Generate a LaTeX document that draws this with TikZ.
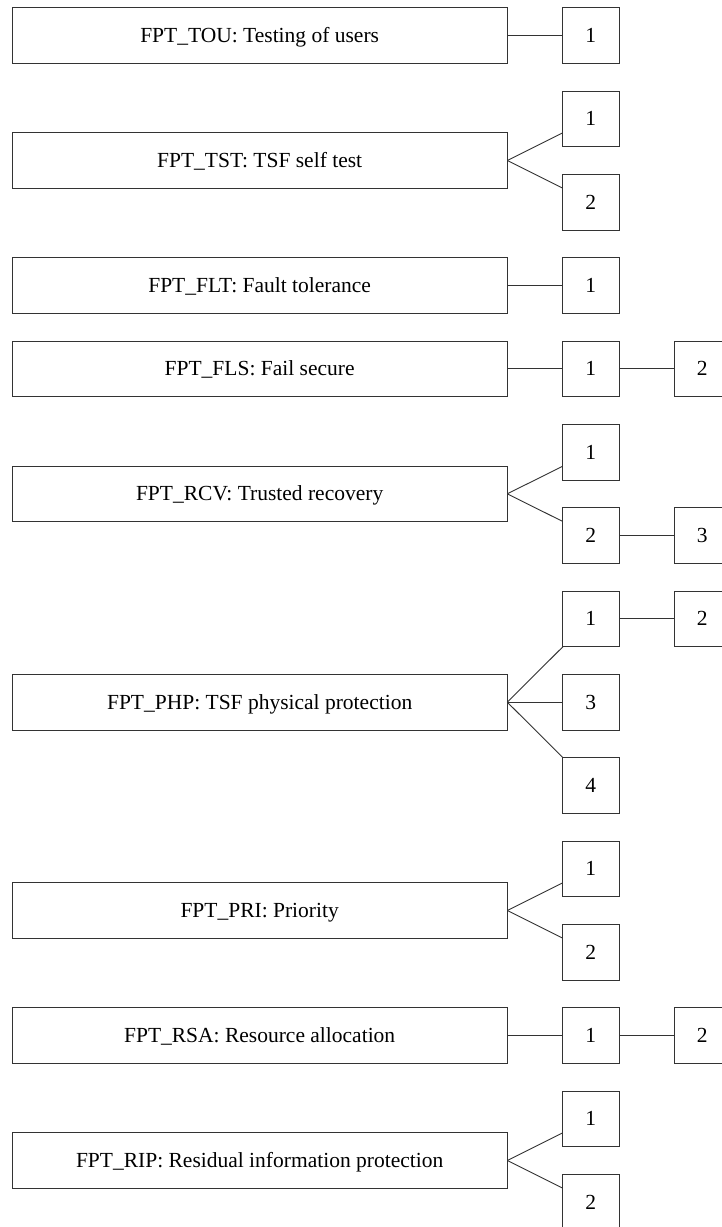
\documentclass[tikz,border=0pt]{standalone}
\usepackage{fontspec}
\setmainfont{Liberation Serif}
\begin{document}
\begin{tikzpicture}[x=1pt,y=-1pt,
  fam/.style={draw=black!80, line width=0.9pt, minimum width=495.3pt, minimum height=55.7pt, inner sep=0pt, outer sep=0pt, text height=14pt, text depth=0pt, font=\fontsize{21.5}{25}\selectfont},
  comp/.style={draw=black!80, line width=0.9pt, minimum width=56.3pt, minimum height=55.7pt, inner sep=0pt, outer sep=0pt, text height=14pt, text depth=0pt, font=\fontsize{21.5}{25}\selectfont},
  link/.style={draw=black!80, line width=0.9pt}]
\useasboundingbox[fill=white] (0,0) rectangle (722,1227);
\clip (0,0) rectangle (722,1227);
% parents
\node[fam] (tou) at (259.65,35.5) {FPT\_TOU: Testing of users};
\node[fam] (tst) at (259.65,160.5) {FPT\_TST: TSF self test};
\node[fam] (flt) at (259.65,285.5) {FPT\_FLT: Fault tolerance};
\node[fam] (fls) at (259.65,368.8) {FPT\_FLS: Fail secure};
\node[fam] (rcv) at (259.65,493.8) {FPT\_RCV: Trusted recovery};
\node[fam] (php) at (259.65,702.2) {FPT\_PHP: TSF physical protection};
\node[fam] (pri) at (259.65,910.5) {FPT\_PRI: Priority};
\node[fam] (rsa) at (259.65,1035.5) {FPT\_RSA: Resource allocation};
\node[fam] (rip) at (259.65,1160.5) {FPT\_RIP: Residual information protection};
% components
\node[comp] (tou1) at (590.85,35.5) {1};
\node[comp] (tst1) at (590.85,118.8) {1};
\node[comp] (tst2) at (590.85,202.2) {2};
\node[comp] (flt1) at (590.85,285.5) {1};
\node[comp] (fls1) at (590.85,368.8) {1};
\node[comp] (fls2) at (702.15,368.8) {2};
\node[comp] (rcv1) at (590.85,452.2) {1};
\node[comp] (rcv2) at (590.85,535.5) {2};
\node[comp] (rcv3) at (702.15,535.5) {3};
\node[comp] (php1) at (590.85,618.8) {1};
\node[comp] (php2) at (702.15,618.8) {2};
\node[comp] (php3) at (590.85,702.2) {3};
\node[comp] (php4) at (590.85,785.5) {4};
\node[comp] (pri1) at (590.85,868.8) {1};
\node[comp] (pri2) at (590.85,952.2) {2};
\node[comp] (rsa1) at (590.85,1035.5) {1};
\node[comp] (rsa2) at (702.15,1035.5) {2};
\node[comp] (rip1) at (590.85,1118.8) {1};
\node[comp] (rip2) at (590.85,1202.2) {2};
% connectors
\path[link] (tou.east) -- (tou1);
\path[link] (tst.east) -- (tst1);
\path[link] (tst.east) -- (tst2);
\path[link] (flt.east) -- (flt1);
\path[link] (fls.east) -- (fls1);
\path[link] (fls1) -- (fls2);
\path[link] (rcv.east) -- (rcv1);
\path[link] (rcv.east) -- (rcv2);
\path[link] (rcv2) -- (rcv3);
\path[link] (php.east) -- (php1);
\path[link] (php1) -- (php2);
\path[link] (php.east) -- (php3);
\path[link] (php.east) -- (php4);
\path[link] (pri.east) -- (pri1);
\path[link] (pri.east) -- (pri2);
\path[link] (rsa.east) -- (rsa1);
\path[link] (rsa1) -- (rsa2);
\path[link] (rip.east) -- (rip1);
\path[link] (rip.east) -- (rip2);
\end{tikzpicture}
\end{document}
